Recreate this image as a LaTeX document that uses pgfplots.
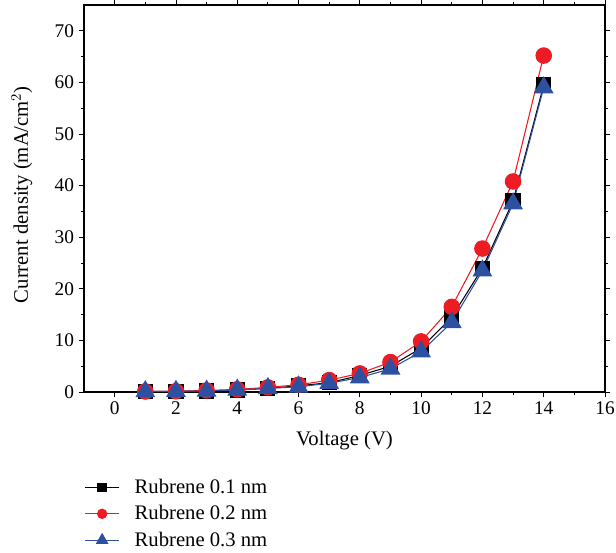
\documentclass[border=0pt]{standalone}
\usepackage{fontspec}
\setmainfont{Liberation Serif}
\usepackage{pgfplots}
\pgfplotsset{compat=1.18}
\definecolor{myred}{RGB}{237,28,36}
\definecolor{myblue}{RGB}{46,80,160}
\begin{document}
\begin{tikzpicture}
\begin{axis}[
  scale only axis,
  width=390.75pt, height=290.25pt,
  xmin=-1, xmax=16, ymin=0, ymax=75,
  xtick={0,2,...,16}, ytick={0,10,...,70},
  minor x tick num=1, minor y tick num=1,
  tick align=outside,
  major tick length=4pt, minor tick length=2.5pt,
  tick style={black, line width=0.6pt},
  axis line style={line width=0.8pt},
  /pgf/number format/assume math mode=true,
  tick label style={font=\fontsize{14.5}{16}\selectfont},
  label style={font=\fontsize{15.5}{17}\selectfont},
  xlabel={Voltage (V)},
  ylabel={Current density (mA/cm$^2$)},
  xlabel style={at={(axis description cs:0.5,-0.1266)}, anchor=center},
  ylabel style={at={(axis description cs:-0.119,0.51)}, anchor=center},
  legend style={at={(axis description cs:0,-0.218)}, anchor=north west, draw=none, fill=none,
    inner sep=0pt, font=\fontsize{15.5}{17}\selectfont, row sep=3.5pt,
    nodes={inner sep=2pt}},
  legend cell align=left,
  legend image code/.code={
    \draw[#1, mark=none] (0pt,0pt) -- (26pt,0pt);
    \draw[#1, only marks, every mark/.append style={scale=0.6}] plot coordinates {(13pt,0pt)};
    \path (0pt,0pt) (35pt,0pt);
  },
]
\addplot[black, line width=0.8pt, mark=square*, mark size=5.3pt, mark options={solid,fill=black}] coordinates {
(1,0.1)(2,0.15)(3,0.2)(4,0.4)(5,0.7)(6,1.2)(7,1.8)(8,3.2)(9,5)(10,8.5)(11,14.5)(12,24)(13,37)(14,59.5)};
\addlegendentry{Rubrene 0.1 nm}
\addplot[myred, line width=0.8pt, mark=*, mark size=5.8pt, mark options={solid,fill=myred}] coordinates {
(1,0.1)(2,0.15)(3,0.3)(4,0.5)(5,0.9)(6,1.4)(7,2.3)(8,3.6)(9,5.8)(10,9.8)(11,16.5)(12,27.8)(13,40.8)(14,65.2)};
\addlegendentry{Rubrene 0.2 nm}
\addplot[myblue, line width=0.8pt, mark=triangle*, mark size=7.8pt, mark options={solid,fill=myblue}] coordinates {
(1,0.1)(2,0.15)(3,0.2)(4,0.4)(5,0.7)(6,1.0)(7,1.7)(8,2.8)(9,4.5)(10,7.8)(11,13.5)(12,23.5)(13,36.5)(14,59)};
\addlegendentry{Rubrene 0.3 nm}
\end{axis}
\pgfresetboundingbox
\useasboundingbox ([xshift=-63pt,yshift=-120pt]current axis.south west) rectangle ([xshift=8.25pt,yshift=3.75pt]current axis.north east);
\end{tikzpicture}
\end{document}
